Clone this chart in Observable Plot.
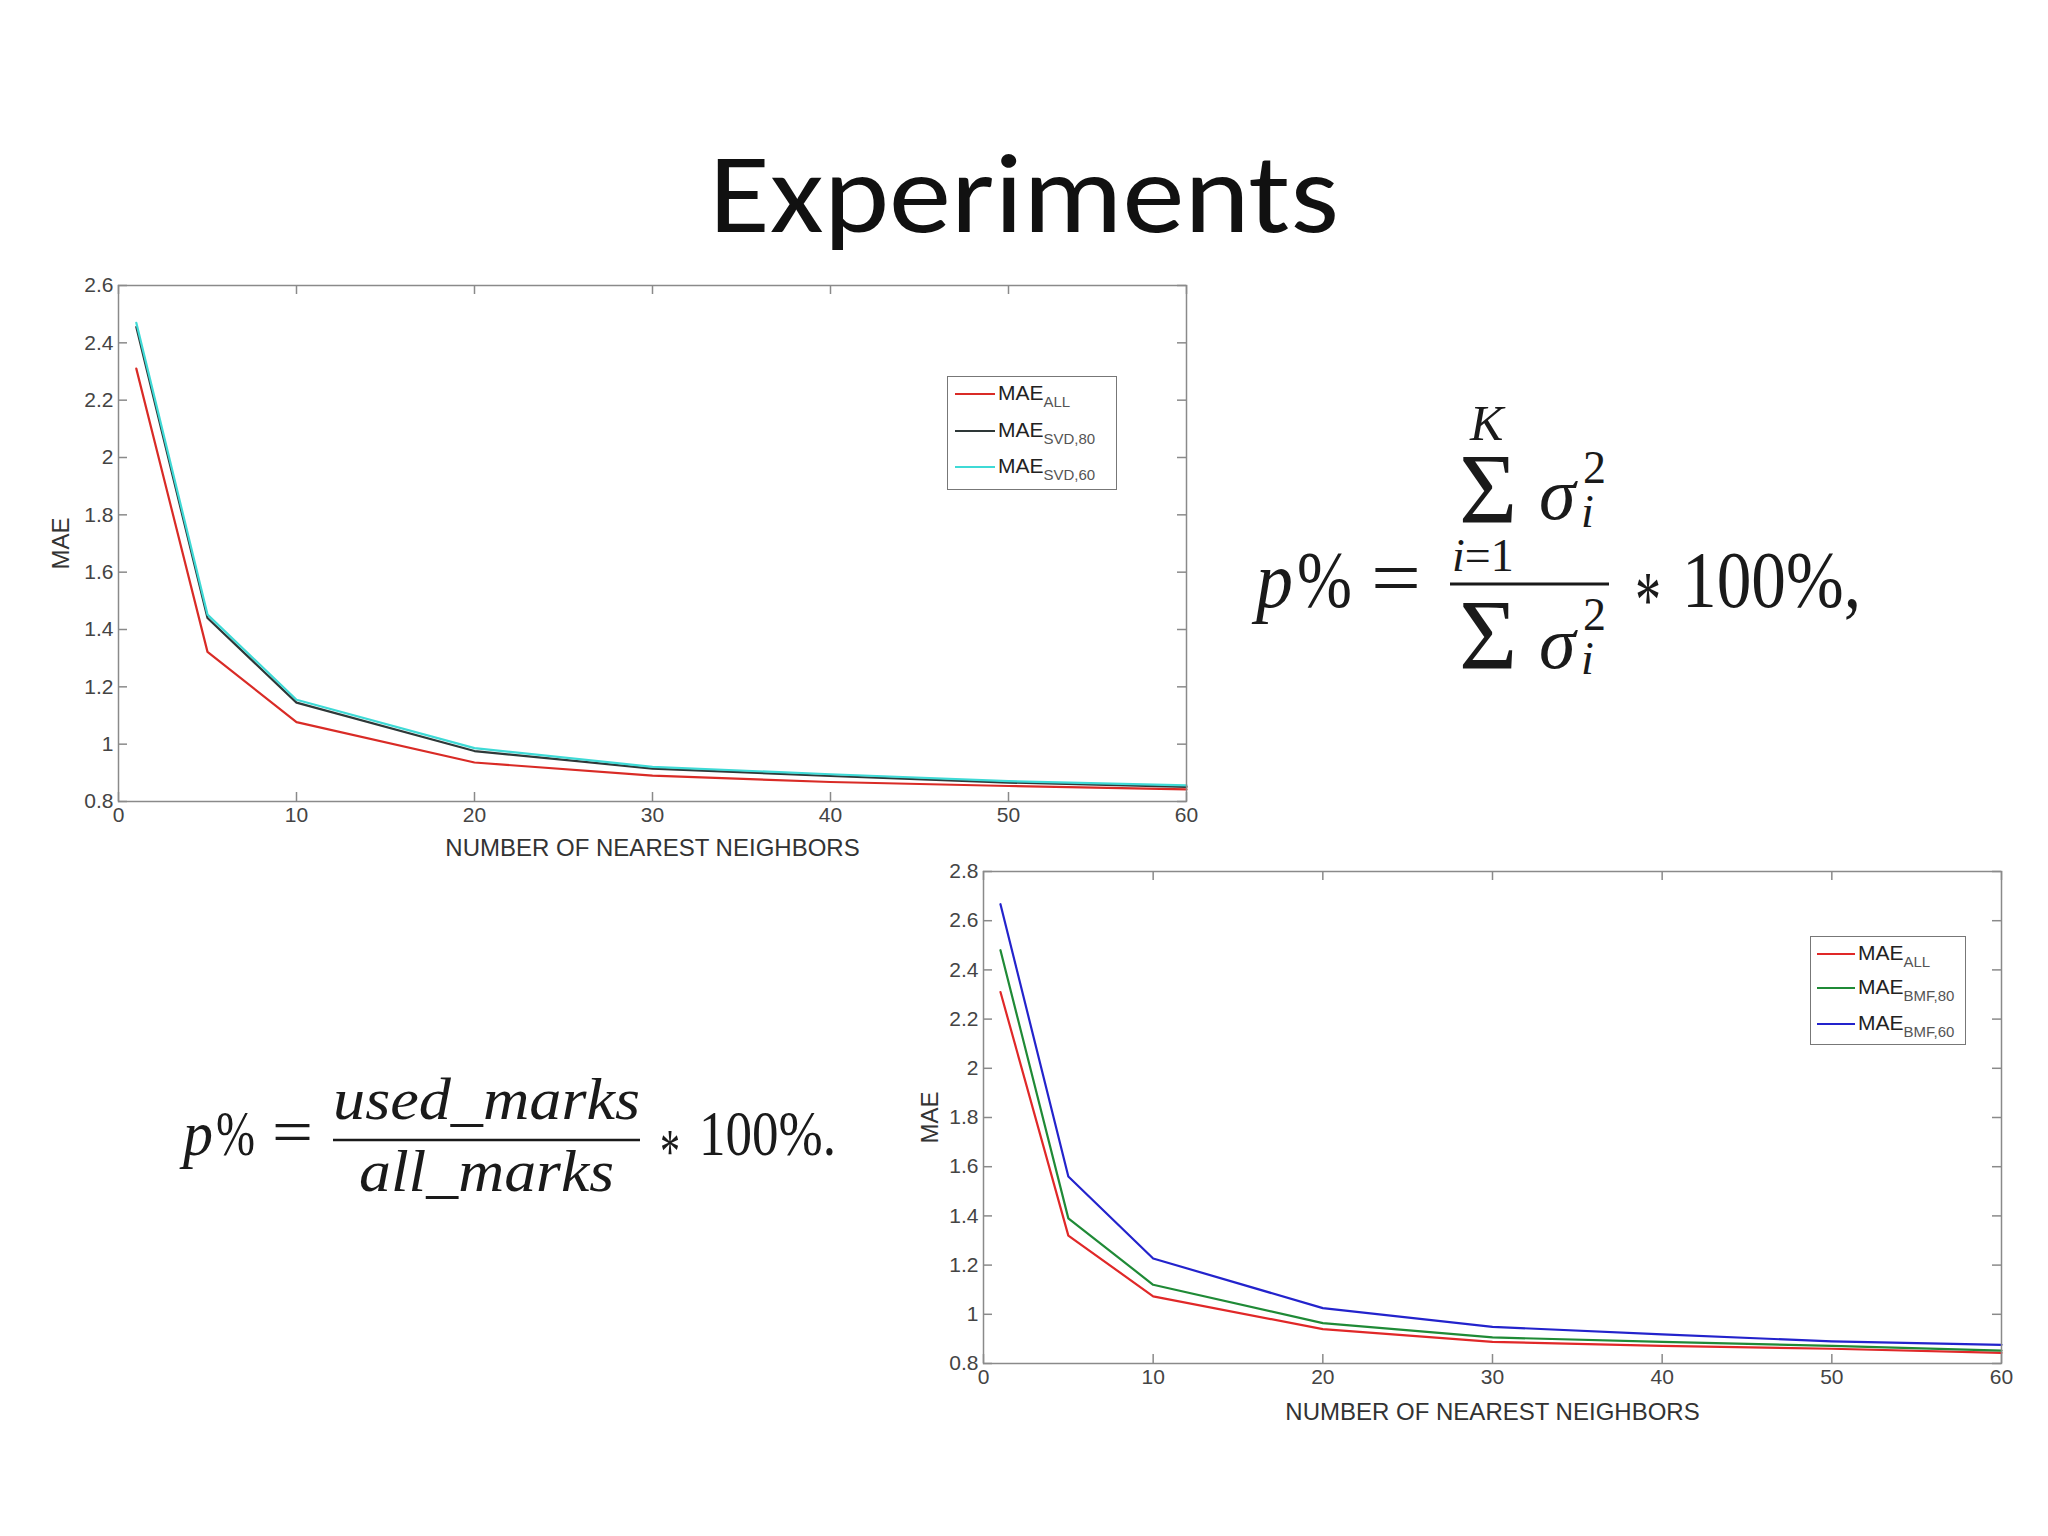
<!DOCTYPE html>
<html><head><meta charset="utf-8">
<script src="https://cdn.jsdelivr.net/npm/d3@7"></script>
<script src="https://cdn.jsdelivr.net/npm/@observablehq/plot@0.6"></script>
<style>
html,body{margin:0;padding:0;background:#fff;}
#page{position:relative;width:2048px;height:1536px;overflow:hidden;background:#fff;}
.chart{position:absolute;}
.chart g[aria-label="x-axis label"], .chart g[aria-label="y-axis label"]{font-size:24px;fill:#333;}
.legend{position:absolute;border:1.5px solid #777;background:#fff;font-family:"Liberation Sans",Arial,sans-serif;color:#222;box-sizing:border-box;}
.legend .row{position:absolute;left:0;height:24px;display:flex;align-items:center;}
.legend .swatch{height:0;border-top:2px solid;margin-right:3px;}
.legend .lab{font-size:21px;line-height:24px;white-space:nowrap;}
.legend .lab sub{font-size:15px;color:#555;vertical-align:baseline;position:relative;top:7px;}
</style></head><body>
<div id="page">
<svg id="deco" width="2048" height="1536" style="position:absolute;left:0;top:0">
  <text x="1024" y="232" text-anchor="middle" font-family="Carlito, Lato, sans-serif" font-size="114" fill="#111" textLength="630" lengthAdjust="spacingAndGlyphs">Experiments</text>
  <g font-family="'Liberation Serif', 'DejaVu Serif', serif" fill="#1a1a1a">
    <text x="1256" y="607" font-size="80" font-style="italic" textLength="37" lengthAdjust="spacingAndGlyphs">p</text>
    <text x="1297" y="607" font-size="80" textLength="55" lengthAdjust="spacingAndGlyphs">%</text>
    <text x="1371" y="605" font-size="80" textLength="50" lengthAdjust="spacingAndGlyphs">=</text>
    <text font-size="80"><tspan x="1470" y="440" font-size="50" font-style="italic">K</tspan><tspan x="1459" y="522" font-size="100">Σ</tspan><tspan x="1539" y="519" font-size="74" font-style="italic">σ</tspan><tspan x="1583" y="483" font-size="46">2</tspan><tspan x="1581" y="527" font-size="46" font-style="italic">i</tspan><tspan x="1452" y="571" font-size="46" font-style="italic">i</tspan><tspan font-size="46">=1</tspan><tspan x="1459" y="668" font-size="100">Σ</tspan><tspan x="1539" y="668" font-size="74" font-style="italic">σ</tspan><tspan x="1583" y="630" font-size="46">2</tspan><tspan x="1581" y="674" font-size="46" font-style="italic">i</tspan></text>
    <line x1="1450" x2="1609" y1="584" y2="584" stroke="#1a1a1a" stroke-width="3"/>
    <text x="1635" y="627" font-size="80" textLength="26" lengthAdjust="spacingAndGlyphs">*</text>
    <text x="1682" y="607" font-size="80" textLength="179" lengthAdjust="spacingAndGlyphs">100%,</text>

    <text x="183" y="1155" font-size="63" font-style="italic" textLength="30" lengthAdjust="spacingAndGlyphs">p</text>
    <text x="216" y="1155" font-size="63" textLength="39" lengthAdjust="spacingAndGlyphs">%</text>
    <text x="272" y="1153" font-size="63" textLength="41" lengthAdjust="spacingAndGlyphs">=</text>
    <text x="333" y="1119" font-size="60" font-style="italic" textLength="307" lengthAdjust="spacingAndGlyphs">used_marks</text>
    <line x1="333" x2="640" y1="1140" y2="1140" stroke="#1a1a1a" stroke-width="2.5"/>
    <text x="359" y="1191" font-size="60" font-style="italic" textLength="255" lengthAdjust="spacingAndGlyphs">all_marks</text>
    <text x="660" y="1173" font-size="63" textLength="20" lengthAdjust="spacingAndGlyphs">*</text>
    <text x="699" y="1155" font-size="63" textLength="137" lengthAdjust="spacingAndGlyphs">100%.</text>
  </g>
</svg>
<div id="chart1" class="chart" style="left:30px;top:265px"></div>
<div id="chart2" class="chart" style="left:900px;top:851px"></div>
<div id="legend1" class="legend" style="left:947px;top:376px;width:170px;height:114px"></div>
<div id="legend2" class="legend" style="left:1810px;top:936px;width:156px;height:109px"></div>
</div>
<script>
// ---- data ----
const neighbors = [1, 5, 10, 20, 30, 40, 50, 60];
const xTicks = [0, 10, 20, 30, 40, 50, 60];

// top chart (SVD)
const topNames = ["ALL", "SVD,80", "SVD,60"];
const topColors = ["#d92b26", "#2e3838", "#3fdad6"];
const maeAllTop = [2.31, 1.322, 1.077, 0.936, 0.89, 0.868, 0.854, 0.842];
const maeSvd80 = [2.455, 1.44, 1.145, 0.976, 0.915, 0.889, 0.866, 0.851];
const maeSvd60 = [2.47, 1.452, 1.155, 0.986, 0.921, 0.895, 0.871, 0.856];
const topYTicks = [0.8, 1, 1.2, 1.4, 1.6, 1.8, 2, 2.2, 2.4, 2.6];

// bottom chart (BMF)
const botNames = ["ALL", "BMF,80", "BMF,60"];
const botColors = ["#e02828", "#1f8a36", "#2323cc"];
const maeAllBot = [2.31, 1.32, 1.073, 0.94, 0.888, 0.872, 0.86, 0.843];
const maeBmf80 = [2.48, 1.39, 1.12, 0.964, 0.906, 0.888, 0.872, 0.852];
const maeBmf60 = [2.667, 1.56, 1.227, 1.025, 0.949, 0.918, 0.89, 0.876];
const botYTicks = [0.8, 1, 1.2, 1.4, 1.6, 1.8, 2, 2.2, 2.4, 2.6, 2.8];

const xLabel = "NUMBER OF NEAREST NEIGHBORS";
const yLabel = "MAE";

function makeChart({names, values, colors, yTicks, width, height, margin, xLabelOffset, yLabelOffset}) {
  const data = names.flatMap((name, s) => neighbors.map((n, i) => ({n, mae: values[s][i], series: name})));
  const xDomain = [xTicks[0], xTicks[xTicks.length - 1]];
  const yDomain = [yTicks[0], yTicks[yTicks.length - 1]];
  const axisColor = "#8a8a8a";
  const tickLen = 9;
  const fmt = d3.format("~g");
  return Plot.plot({
    width, height,
    marginTop: margin[0], marginRight: margin[1], marginBottom: margin[2], marginLeft: margin[3],
    style: {background: "white", fontFamily: "'Liberation Sans', Arial, sans-serif", fontSize: "21px", color: "#444", overflow: "visible"},
    x: {domain: xDomain},
    y: {domain: yDomain},
    color: {domain: names, range: colors},
    marks: [
      Plot.ruleY(yTicks, {x1: xDomain[0], x2: xDomain[0], insetRight: -tickLen, stroke: axisColor, strokeWidth: 1.5}),
      Plot.ruleY(yTicks, {x1: xDomain[1], x2: xDomain[1], insetLeft: -tickLen, stroke: axisColor, strokeWidth: 1.5}),
      Plot.ruleX(xTicks, {y1: yDomain[0], y2: yDomain[0], insetBottom: tickLen, stroke: axisColor, strokeWidth: 1.5}),
      Plot.ruleX(xTicks, {y1: yDomain[1], y2: yDomain[1], insetTop: tickLen, stroke: axisColor, strokeWidth: 1.5}),
      Plot.line(data, {x: "n", y: "mae", z: "series", stroke: "series", strokeWidth: 2.2}),
      Plot.frame({stroke: axisColor, strokeWidth: 1.5}),
      Plot.axisX({ticks: xTicks, tickSize: 0, tickPadding: 6, tickFormat: fmt, label: xLabel, labelAnchor: "center", labelOffset: xLabelOffset, labelArrow: "none"}),
      Plot.axisY({ticks: yTicks, tickSize: 0, tickPadding: 5, tickFormat: fmt, label: yLabel, labelAnchor: "center", labelOffset: yLabelOffset, labelArrow: "none"})
    ]
  });
}

document.getElementById("chart1").append(makeChart({
  names: topNames, values: [maeAllTop, maeSvd80, maeSvd60], colors: topColors, yTicks: topYTicks,
  width: 1176, height: 606, margin: [20, 20, 70, 88], xLabelOffset: 54, yLabelOffset: 67
}));
document.getElementById("chart2").append(makeChart({
  names: botNames, values: [maeAllBot, maeBmf80, maeBmf60], colors: botColors, yTicks: botYTicks,
  width: 1121, height: 582, margin: [20, 20, 70, 83], xLabelOffset: 56, yLabelOffset: 63
}));

function makeLegend(el, names, colors, centers, swLeft, swWidth) {
  names.forEach((name, i) => {
    const row = document.createElement("div");
    row.className = "row";
    row.style.top = (centers[i] - 12) + "px";
    row.style.left = swLeft + "px";
    const sw = document.createElement("div");
    sw.className = "swatch";
    sw.style.width = swWidth + "px";
    sw.style.borderColor = colors[i];
    const lab = document.createElement("span");
    lab.className = "lab";
    lab.innerHTML = "MAE<sub>" + name + "</sub>";
    row.append(sw, lab);
    el.append(row);
  });
}
makeLegend(document.getElementById("legend1"), topNames, topColors, [17, 54, 90], 7, 40);
makeLegend(document.getElementById("legend2"), botNames, botColors, [17, 51, 87], 6, 38);
</script>
</body></html>
